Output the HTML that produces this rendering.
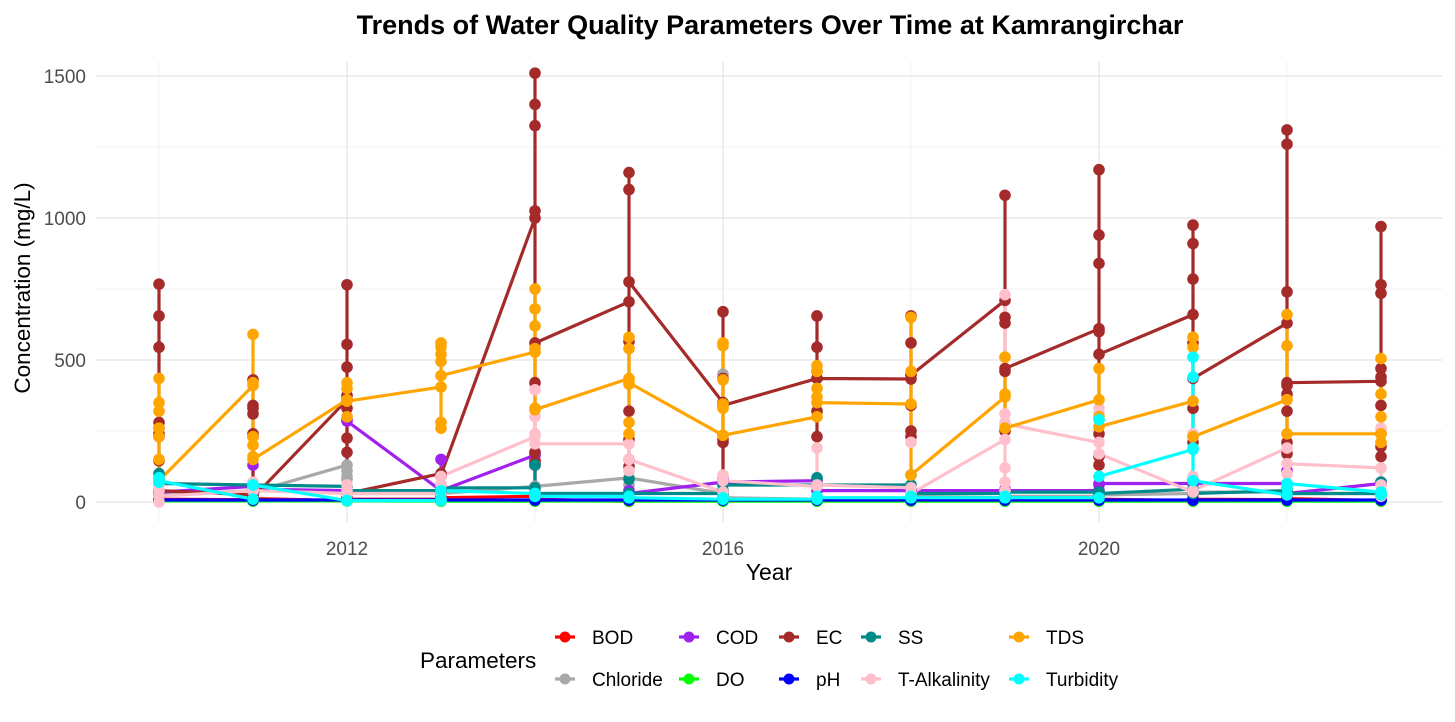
<!DOCTYPE html>
<html><head><meta charset="utf-8"><style>
body{margin:0;background:#fff;font-family:"Liberation Sans",Arial,sans-serif}
svg text{font-family:"Liberation Sans",Arial,sans-serif}
</style></head><body>
<svg id="chart" width="1455" height="717" viewBox="0 0 1455 717" xmlns="http://www.w3.org/2000/svg">
<rect width="1455" height="717" fill="#fff"/>
<g id="grid"></g>
<g id="series"></g>
<g id="axes"></g>
<text x="770" y="34" text-anchor="middle" font-size="27" font-weight="bold" fill="#000">Trends of Water Quality Parameters Over Time at Kamrangirchar</text>
<text x="769" y="580" text-anchor="middle" font-size="23" fill="#000">Year</text>
<text transform="translate(30,288) rotate(-90)" text-anchor="middle" font-size="22.5" fill="#000">Concentration (mg/L)</text>
<g id="legend">
<text x="420" y="668" font-size="22.5" fill="#000">Parameters</text>
</g>
</svg>
<script>
const years=[2010,2011,2012,2013,2014,2015,2016,2017,2018,2019,2020,2021,2022,2023];
const xTicks=[2012,2016,2020];
const xMinor=[2010,2014,2018,2022];
const yTicks=[0,500,1000,1500];
const yMinor=[250,750,1250];
const seriesNames=["BOD","Chloride","COD","DO","EC","pH","SS","T-Alkalinity","TDS","Turbidity"];
const seriesColors=["#ff0000","#a9a9a9","#a020f0","#00ff00","#a52a2a","#0000ff","#008b8b","#ffc0cb","#ffa500","#00ffff"];
const bodValues=[[5,15,10],[8,20,12],[5,15,10],[10,20,15],[20,145,130,10],[2,10,5],[5,10,8],[5,12,8],[5,10,5],[5,10,8],[5,15,10],[5,15,10],[8,20,12],[5,10,8]];
const chlorideValues=[[20,30,25],[40,30,35],[130,110,90,80,30],[30,25,30],[55,40,55],[85,60,85],[30,450,20,15],[10,15,10],[10,15,20],[15,20,20],[20,25,25],[30,25,35],[35,30,30],[30,20]];
const codValues=[[40,35,35],[55,130,45],[40,290,285],[40,150,40],[165,175,20],[30,40,30],[70,80,70],[75,80,40],[40,45,40],[40,45,40],[40,60,65],[65,70,65],[65,110,30],[65,70]];
const doValues=[[3,5,4],[4,3,4],[4,5,4],[3,4,3],[3,5,4],[3,4,3],[3,4,3],[3,4,3],[3,4,3],[3,4,3],[3,4,3],[3,4,3],[3,4,3],[3,4]];
const ecValues=[[767,655,545,280,260,240,230,145,40],[25,430,340,330,310,240,230,15],[360,765,555,475,375,330,225,175,30],[100,90,60,40,30,20,95],[1000,1510,1400,1325,1025,420,175,140,560],[705,1160,1100,565,320,220,150,125,775],[350,670,435,220,210,30,340],[435,655,545,460,320,230,435],[433,655,560,450,340,250,230,447],[710,1080,650,630,460,250,470],[610,1170,940,840,600,240,160,130,520],[660,975,910,785,560,330,210,435],[630,1310,1260,740,410,380,320,210,170,420],[425,970,765,735,470,440,340,240,195,160]];
const phValues=[[7,7,7],[7,7,7],[7,7,7],[7,7,7],[7,7,7],[7,7,7],[7,7,7],[7,7,7],[7,7,7],[7,7,7],[7,7,7],[7,7,7],[7,7,7],[7,7]];
const ssValues=[[100,80,65],[60,55,60],[55,40,40],[40,35,50],[50,130,30],[30,80,30],[30,40,60],[60,85,60],[60,95,30],[30,35,35],[35,30,30],[45,80,30],[40,50,30],[30,70]];
const alkValues=[[0,60,40,20],[40,70,50,40],[30,60,40,30],[30,60,90],[230,395,300,240,205],[205,150,110,150],[35,95,75],[55,190,60],[50,210,30],[220,730,310,280,120,70,40,275],[210,330,310,90,170],[35,240,230,90,40],[190,360,100,135],[120,260,60,20]];
const tdsValues=[[435,350,320,260,230,150,75],[410,590,420,230,200,160,150],[360,420,400,300,355],[405,560,545,520,495,280,260,445],[528,750,680,620,540,330,325],[435,580,540,415,280,240,420],[235,560,550,430,345,330,235],[300,480,460,400,370,350],[345,650,460,95],[370,510,380,260],[360,470,300,265],[355,580,545,230],[360,660,550,240],[240,505,380,300,210]];
const turbValues=[[85,70,75],[10,60,60],[5,5,5],[5,10,40],[30,20,20],[20,15,15],[10,15,10],[10,20,15],[15,20,15],[15,20,15],[15,290,90],[185,510,440,190,75],[25,50,65],[35,25]];
const allValues=[bodValues,chlorideValues,codValues,doValues,ecValues,phValues,ssValues,alkValues,tdsValues,turbValues];

const L=96,R=1442,T=62,B=522;
function xS(yr){return 159+(yr-2010)*94;}
function yS(v){return 502-v*0.284;}
const NS="http://www.w3.org/2000/svg";
function mk(tag,attrs,parent){const e=document.createElementNS(NS,tag);for(const k in attrs)e.setAttribute(k,attrs[k]);parent.appendChild(e);return e;}
const grid=document.getElementById('grid'),axes=document.getElementById('axes'),ser=document.getElementById('series'),leg=document.getElementById('legend');
yMinor.forEach(v=>{const l=mk('line',{x1:L,x2:R,y1:yS(v),y2:yS(v),stroke:'#f2f2f2','stroke-width':1},grid);

});
xMinor.forEach(v=>{const l=mk('line',{x1:xS(v),x2:xS(v),y1:T,y2:B,stroke:'#f2f2f2','stroke-width':1},grid);

});
yTicks.forEach(v=>{const l=mk('line',{x1:L,x2:R,y1:yS(v),y2:yS(v),stroke:'#e8e8e8','stroke-width':1.5},grid);


const t=mk('text',{x:86,y:yS(v)+7,'text-anchor':'end','font-size':19,fill:'#4d4d4d'},axes);t.textContent=v;

});
xTicks.forEach(v=>{const l=mk('line',{x1:xS(v),x2:xS(v),y1:T,y2:B,stroke:'#e8e8e8','stroke-width':1.5},grid);


const t=mk('text',{x:xS(v),y:555,'text-anchor':'middle','font-size':19,fill:'#4d4d4d'},axes);t.textContent=v;

});
allValues.forEach((arr,si)=>{let pts=[];arr.forEach((vals,yi)=>vals.forEach(v=>pts.push(xS(years[yi]).toFixed(1)+','+yS(v).toFixed(1))));
const p=mk('polyline',{points:pts.join(' '),fill:'none',stroke:seriesColors[si],'stroke-width':3.2,'stroke-linejoin':'round'},ser);

});
allValues.forEach((arr,si)=>{arr.forEach((vals,yi)=>vals.forEach(v=>{const c=mk('circle',{cx:xS(years[yi]),cy:yS(v),r:5.8,fill:seriesColors[si]},ser);

}));});
const legX=[565,565,689,689,789,789,871,871,1019,1019];
const legY=[637,679,637,679,637,679,637,679,637,679];
seriesNames.forEach((n,i)=>{const g=mk('g',{},leg);


mk('line',{x1:legX[i]-10,x2:legX[i]+10,y1:legY[i],y2:legY[i],stroke:seriesColors[i],'stroke-width':3.2},g);
mk('circle',{cx:legX[i],cy:legY[i],r:5.5,fill:seriesColors[i]},g);
const t=mk('text',{x:legX[i]+27,y:legY[i]+7,'font-size':19,fill:'#000'},g);t.textContent=n;});
</script>
</body></html>
